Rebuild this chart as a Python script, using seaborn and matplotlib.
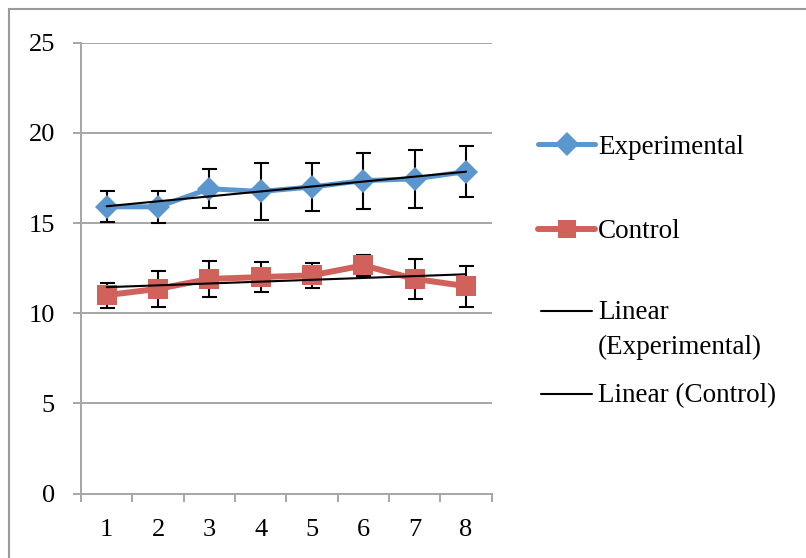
import numpy as np
import pandas as pd
import matplotlib
matplotlib.use("Agg")
import matplotlib.pyplot as plt
from matplotlib.lines import Line2D
from matplotlib.patches import Rectangle
import seaborn as sns

# ---- data ----
sessions = [1, 2, 3, 4, 5, 6, 7, 8]
experimental = [15.9, 15.9, 16.9, 16.75, 17.0, 17.35, 17.45, 17.85]
experimental_err = [0.85, 0.88, 1.07, 1.58, 1.33, 1.55, 1.6, 1.4]
control = [11.0, 11.35, 11.9, 12.0, 12.1, 12.65, 11.9, 11.5]
control_err = [0.7, 0.98, 1.0, 0.85, 0.7, 0.6, 1.1, 1.13]
y_ticks = [0, 5, 10, 15, 20, 25]
legend_labels = ["Experimental", "Control", "Linear\n(Experimental)", "Linear (Control)"]

BLUE = "#5B96CE"
RED = "#D1625B"
GRAY = "#A6A6A6"

sns.set_theme(style="white")
plt.rcParams["font.family"] = ["Liberation Serif", "DejaVu Serif"]

df_exp = pd.DataFrame({"session": sessions, "score": experimental})
df_ctl = pd.DataFrame({"session": sessions, "score": control})

W, H = 806, 558
fig = plt.figure(figsize=(W / 100, H / 100), dpi=100)
ax = fig.add_axes([81 / W, 1 - 493.5 / H, (491.7 - 81) / W, (493.5 - 42.7) / H])

# error bars (beneath)
ax.errorbar(sessions, experimental, yerr=experimental_err, fmt="none",
            ecolor="black", elinewidth=1.5, capsize=5.4, capthick=1.5, zorder=2)
ax.errorbar(sessions, control, yerr=control_err, fmt="none",
            ecolor="black", elinewidth=1.5, capsize=5.4, capthick=1.5, zorder=2)

# series
sns.lineplot(data=df_exp, x="session", y="score", ax=ax, color=BLUE, lw=3.6,
             marker="D", markersize=12, markeredgewidth=0, zorder=3)
sns.lineplot(data=df_ctl, x="session", y="score", ax=ax, color=RED, lw=4.3,
             marker="s", markersize=14.5, markeredgewidth=0, zorder=3)

# linear trend lines
sns.regplot(data=df_exp, x="session", y="score", ax=ax, scatter=False, ci=None,
            truncate=True, line_kws=dict(color="black", lw=1.5, zorder=4))
sns.regplot(data=df_ctl, x="session", y="score", ax=ax, scatter=False, ci=None,
            truncate=True, line_kws=dict(color="black", lw=1.5, zorder=4))

ax.set_xlim(0.5, 8.5)
ax.set_ylim(0, 25)
ax.set_xlabel("")
ax.set_ylabel("")
ax.set_yticks(y_ticks)
ax.set_xticks(sessions)
ax.set_xticks(np.arange(0.5, 9.0, 1.0), minor=True)
ax.grid(False)
for yv in y_ticks[1:]:
    ax.axhline(yv, color=GRAY, lw=1.4, zorder=0)

for side in ["top", "right"]:
    ax.spines[side].set_visible(False)
for side in ["left", "bottom"]:
    ax.spines[side].set_color(GRAY)
    ax.spines[side].set_linewidth(1.4)

ax.tick_params(axis="y", which="major", length=5.8, width=1.4, color=GRAY,
               labelsize=19, pad=13, left=True, direction="out")
ax.tick_params(axis="x", which="major", length=0, labelsize=19, pad=18,
               bottom=True)
ax.tick_params(axis="x", which="minor", length=5.8, width=1.4, color=GRAY,
               bottom=True, direction="out")
for lab in ax.get_xticklabels() + ax.get_yticklabels():
    lab.set_color("black")

# outer chart border
fig.add_artist(Rectangle((9 / W, -0.1), 1.2, 1.1 - 9 / H,
                         transform=fig.transFigure, fill=False,
                         edgecolor="#9A9A9A", lw=1.5))

# legend (drawn manually to mimic Excel layout)
def fx(px):
    return px / W

def fy(py):
    return 1 - py / H

handles = [
    dict(color=BLUE, lw=3.6, marker="D", ms=12, y=144, ty=147),
    dict(color=RED, lw=4.3, marker="s", ms=13, y=228.5, ty=231),
    dict(color="black", lw=1.5, marker=None, ms=0, y=311, ty=330),
    dict(color="black", lw=1.5, marker=None, ms=0, y=394, ty=396),
]
for h, label in zip(handles, legend_labels):
    x0, x1 = (538, 595) if h["marker"] else (541, 592)
    fig.add_artist(Line2D([fx(x0), fx(x1)], [fy(h["y"]), fy(h["y"])],
                          transform=fig.transFigure, color=h["color"],
                          lw=h["lw"], solid_capstyle="round"))
    if h["marker"]:
        fig.add_artist(Line2D([fx((x0 + x1) / 2)], [fy(h["y"])],
                              transform=fig.transFigure, color=h["color"],
                              marker=h["marker"], ms=h["ms"], mew=0, lw=0))
    fig.text(fx(598), fy(h["ty"]), label, fontsize=19.5, va="center",
             ha="left", color="black", linespacing=1.5)

fig.savefig("out.png", dpi=100)
